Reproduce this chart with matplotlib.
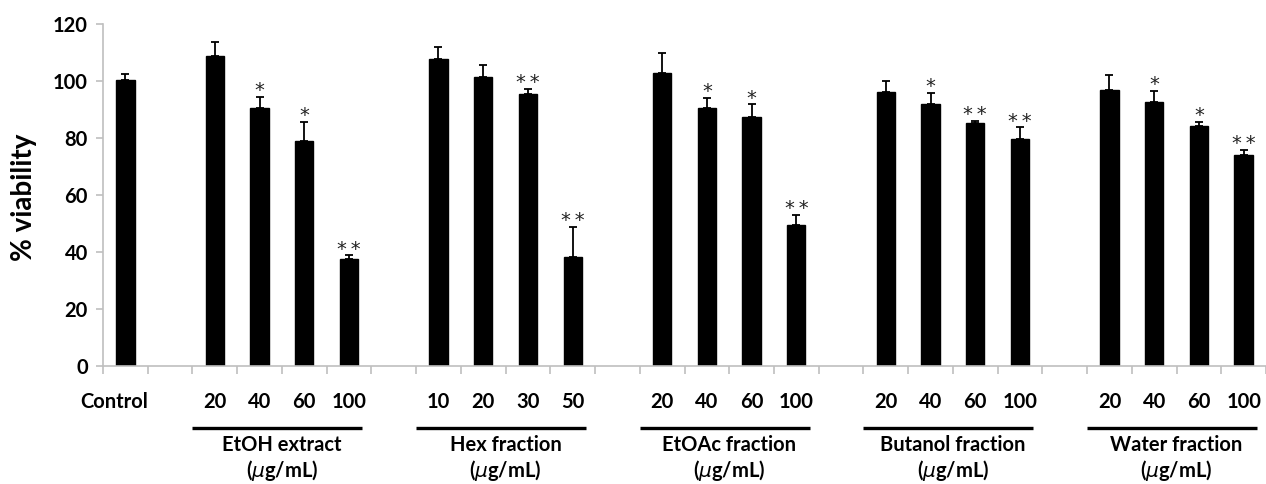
import numpy as np
import matplotlib.pyplot as plt
import matplotlib.transforms as mtransforms

plt.rcParams['font.family'] = ['Lato', 'DejaVu Sans']

# data
groups = ["EtOH extract", "Hex fraction", "EtOAc fraction", "Butanol fraction", "Water fraction"]
doses = [["20", "40", "60", "100"],
         ["10", "20", "30", "50"],
         ["20", "40", "60", "100"],
         ["20", "40", "60", "100"],
         ["20", "40", "60", "100"]]
control_value = 100.3
control_err = 2.0
viability = [[108.8, 90.4, 79.0, 37.5],
             [107.8, 101.3, 95.3, 38.1],
             [102.8, 90.6, 87.5, 49.4],
             [96.1, 91.8, 85.4, 79.5],
             [96.8, 92.5, 84.3, 74.1]]
errors = [[4.8, 4.0, 6.7, 1.3],
          [4.3, 4.2, 1.9, 10.8],
          [7.1, 3.6, 4.3, 3.5],
          [3.9, 3.9, 0.7, 4.2],
          [5.3, 3.9, 1.4, 1.8]]
stars = [["", "*", "*", "**"],
         ["", "", "**", "**"],
         ["", "*", "*", "**"],
         ["", "*", "**", "**"],
         ["", "*", "*", "**"]]

# slot positions: control at 0, each group of 4 after one empty slot
xs = [0]
vals = [control_value]
errs = [control_err]
sig = [""]
labels = []
for g in range(len(groups)):
    start = 2 + 5 * g
    for i in range(len(doses[g])):
        xs.append(start + i)
        vals.append(viability[g][i])
        errs.append(errors[g][i])
        sig.append(stars[g][i])
        labels.append((start + i, doses[g][i]))
xs = np.array(xs)
vals = np.array(vals)
errs = np.array(errs)

fig = plt.figure(figsize=(12.66, 4.84), dpi=100)
ax = fig.add_axes([103 / 1266, 118 / 484, 1163 / 1266, 342 / 484])

ax.bar(xs, vals, width=0.41, color='black', edgecolor='black')
ax.errorbar(xs, vals, yerr=[np.zeros_like(errs), errs], fmt='none',
            ecolor='black', elinewidth=1.3, capsize=3, capthick=1.3)

for x, v, e, s in zip(xs, vals, errs, sig):
    if s:
        ax.text(x, v + e + 0.3, "\u2009".join(s), ha='center', va='baseline',
                fontsize=14, family='DejaVu Sans', color='#222222')

ax.set_xlim(-0.5, 25.39)
ax.set_ylim(0, 120)
ax.set_yticks(np.arange(0, 121, 20))
ax.set_xticks(np.arange(-0.5, 26, 1))
ax.set_xticklabels([])

gray = '#bfbfbf'
for side in ['top', 'right']:
    ax.spines[side].set_visible(False)
for side in ['left', 'bottom']:
    ax.spines[side].set_color(gray)
    ax.spines[side].set_linewidth(1.2)
ax.tick_params(axis='y', colors=gray, length=5, width=1.2, pad=6,
               labelcolor='black', labelsize=14.5)
ax.tick_params(axis='x', colors=gray, length=6, width=1.2)
for lab in ax.get_yticklabels():
    lab.set_fontweight('bold')

trans = mtransforms.blended_transform_factory(ax.transData, ax.transAxes)

ax.text(-0.26, -0.105, "Control", transform=trans, ha='center', va='center',
        fontsize=14.5, fontweight='bold')
for x, t in labels:
    ax.text(x, -0.105, t, transform=trans, ha='center', va='center',
            fontsize=14.5, fontweight='bold')

for g, name in enumerate(groups):
    start = 2 + 5 * g
    end = start + len(doses[g]) - 1
    ax.plot([start - 0.5, end + 0.3], [-0.181, -0.181], transform=trans,
            color='black', lw=2.4, clip_on=False, solid_capstyle='butt')
    mid = (start + end) / 2
    ax.text(mid, -0.232, name, transform=trans, ha='center', va='center',
            fontsize=14.5, fontweight='bold')
    ax.text(mid, -0.306, r"($\mu$g/mL)", transform=trans, ha='center', va='center',
            fontsize=14.5, fontweight='bold')

fig.text(24 / 1266, 1 - 197 / 484, "% viability", rotation=90, ha='center', va='center',
         fontsize=20, fontweight='bold')

fig.savefig('out.png', dpi=100)
